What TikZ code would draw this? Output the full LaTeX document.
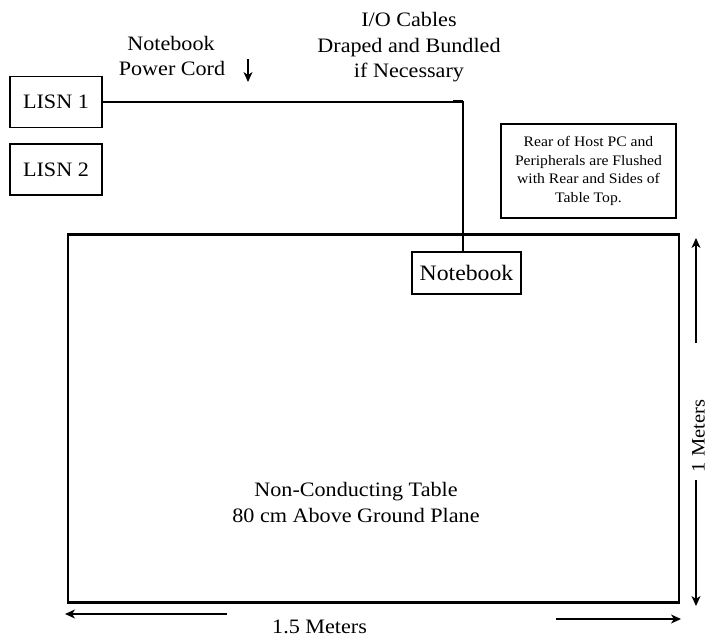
\documentclass[tikz,border=0pt]{standalone}
\usepackage{fontspec}
\setmainfont[FakeStretch=1.08]{Liberation Serif}
\usetikzlibrary{arrows.meta}
\begin{document}
\begin{tikzpicture}[x=1pt,y=-1pt,
  box/.style={draw,line width=1.3pt,inner sep=0pt,align=center},
  lbl/.style={anchor=base,inner sep=0pt,font=\fontsize{20.5}{25}\selectfont},
  arr/.style={line width=1.3pt,-{Stealth[length=10pt,width=9pt,inset=3pt]}},
  cable/.style={line width=2.2pt}]
\useasboundingbox (0,0) rectangle (710,637);
% table
\node[box,line width=2.6pt,minimum width=611pt,minimum height=368pt] (table) at (373.5,418.5) {};
% LISNs
\node[box,minimum width=92pt,minimum height=51pt,font=\fontsize{20.5}{25}\selectfont] (lisn1) at (56,102) {LISN 1};
\node[box,minimum width=92pt,minimum height=51pt,font=\fontsize{20.5}{25}\selectfont] (lisn2) at (56,169.5) {LISN 2};
% notebook
\node[box,minimum width=109pt,minimum height=42pt,font=\fontsize{22}{26}\selectfont] (nb) at (466.5,273) {Notebook};
% rear box
\node[box,line width=2.2pt,minimum width=175pt,minimum height=94pt,font=\fontsize{14.5}{18.6}\selectfont] (rear) at (588.5,171)
  {Rear of Host PC and\\Peripherals are Flushed\\with Rear and Sides of\\Table Top.};
% cable
\coordinate (corner) at (463,102);
\draw[cable] (lisn1.east) -- (corner) -- (corner |- nb.north);
\coordinate (mk) at (453,101.3);
\draw[line width=3pt] (mk) -- (corner |- mk);
% labels
\node[lbl] (pc1) at (171,50) {Notebook};
\node[lbl] (pc2) at (172,75) {Power Cord};
\coordinate (pa1) at (248,59);
\coordinate (pa2) at (248,82);
\draw[arr] (pa1) -- (pa2);
\node[lbl] (io1) at (409,27) {I/O Cables};
\node[lbl] (io2) at (409,52) {Draped and Bundled};
\node[lbl] (io3) at (409,77) {if Necessary};
\node[lbl] (tt1) at (356,496) {Non-Conducting Table};
\node[lbl] (tt2) at (356,522) {80 cm Above Ground Plane};
% dimensions
\coordinate (v1) at (696,343);
\coordinate (v1t) at (696,238);
\coordinate (v2) at (696,480);
\coordinate (v2t) at (696,606);
\draw[arr] (v1) -- (v1t);
\draw[arr] (v2) -- (v2t);
\node[inner sep=0pt,rotate=90,font=\fontsize{19}{25}\selectfont] (vm) at (698.5,436) {1 Meters};
\coordinate (h1) at (227,614);
\coordinate (h1t) at (65,614);
\coordinate (h2) at (556,619);
\coordinate (h2t) at (681,619);
\draw[arr] (h1) -- (h1t);
\draw[arr] (h2) -- (h2t);
\node[lbl,anchor=base west] (hm) at (272,633) {1.5 Meters};
\end{tikzpicture}
\end{document}
